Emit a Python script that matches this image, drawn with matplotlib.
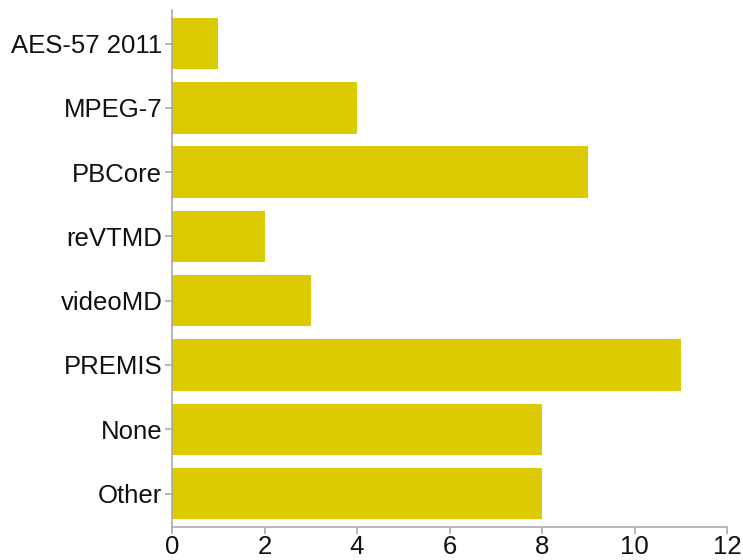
import matplotlib
matplotlib.use("Agg")
import matplotlib.pyplot as plt

# categories, top to bottom
categories = ["AES-57 2011", "MPEG-7", "PBCore", "reVTMD", "videoMD", "PREMIS", "None", "Other"]
counts = [1, 4, 9, 2, 3, 11, 8, 8]
xticks = [0, 2, 4, 6, 8, 10, 12]

plt.rcParams['font.family'] = ['Liberation Sans', 'DejaVu Sans']

fig = plt.figure(figsize=(7.43, 5.6), dpi=100)
ax = fig.add_axes([0.2315, 0.059, 0.747, 0.923])

pos = list(range(len(categories)))
ax.barh(pos, counts, height=0.8, color='#dccb00', edgecolor='none')

ax.set_yticks(pos)
ax.set_yticklabels(categories)
ax.set_ylim(len(categories) - 0.48, -0.52)
ax.set_xlim(0, 12)
ax.set_xticks(xticks)

for s in ['top', 'right']:
    ax.spines[s].set_visible(False)
for s in ['left', 'bottom']:
    ax.spines[s].set_color('#aaaaaa')
    ax.spines[s].set_linewidth(1.2)

ax.tick_params(axis='both', colors='#aaaaaa', length=5, width=1.2,
               labelsize=18.5, labelcolor='#111111')
ax.tick_params(axis='y', pad=2)
ax.tick_params(axis='x', pad=1)

fig.savefig("out.png", dpi=100)
